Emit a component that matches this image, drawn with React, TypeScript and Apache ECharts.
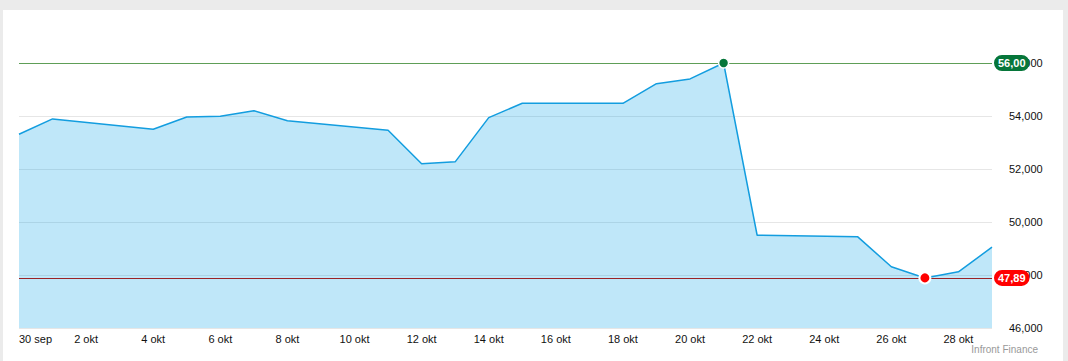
import React, { useEffect, useRef } from "react";
import * as echarts from "echarts";

const dates = [
  "2021-09-30", "2021-10-01", "2021-10-04", "2021-10-05", "2021-10-06", "2021-10-07", "2021-10-08",
  "2021-10-11", "2021-10-12", "2021-10-13", "2021-10-14", "2021-10-15",
  "2021-10-18", "2021-10-19", "2021-10-20", "2021-10-21", "2021-10-22",
  "2021-10-25", "2021-10-26", "2021-10-27", "2021-10-28", "2021-10-29",
];
const prices = [
  53310, 53890, 53500, 53960, 53990, 54200, 53820,
  53460, 52200, 52270, 53940, 54480,
  54480, 55220, 55400, 56000, 49500,
  49440, 48310, 47890, 48120, 49050,
];
const xTickLabels = [
  "30 sep", "2 okt", "4 okt", "6 okt", "8 okt", "10 okt", "12 okt", "14 okt",
  "16 okt", "18 okt", "20 okt", "22 okt", "24 okt", "26 okt", "28 okt",
];
const startDate = "2021-09-30";
const endDate = "2021-10-29";
const maxLabel = "56,00";
const minLabel = "47,89";
const sourceText = "Infront Finance";

const dayIndex = (d: string) => {
  const [y, m, dd] = d.split("-").map(Number);
  const [y0, m0, d0] = startDate.split("-").map(Number);
  return Math.round((Date.UTC(y, m - 1, dd) - Date.UTC(y0, m0 - 1, d0)) / 86400000);
};

const fmtThousands = (v: number) => {
  const s = String(Math.round(v));
  return s.replace(/\B(?=(\d{3})+(?!\d))/g, ",");
};

export default function App() {
  const ref = useRef<HTMLDivElement>(null);

  useEffect(() => {
    if (!ref.current) return;
    const chart = echarts.init(ref.current, undefined, { renderer: "svg" });
    const font = "Arial, 'Liberation Sans', sans-serif";
    const seriesData = dates.map((d, i) => [dayIndex(d), prices[i]]);
    chart.setOption({
      animation: false,
      textStyle: { fontFamily: font },
      grid: { left: 19, right: 76, top: 10, bottom: 33, containLabel: false },
      xAxis: {
        type: "value",
        min: 0,
        max: dayIndex(endDate),
        interval: 2,
        axisLine: { show: false },
        axisTick: { show: false },
        splitLine: { show: false },
        axisLabel: {
          color: "#111",
          fontSize: 11,
          fontFamily: font,
          margin: 5,
          alignMinLabel: "left",
          showMaxLabel: false,
          formatter: (v: number) => (v % 2 === 0 ? xTickLabels[v / 2] ?? "" : ""),
        },
      },
      yAxis: {
        type: "value",
        position: "right",
        min: 46000,
        max: 58000,
        interval: 2000,
        axisLine: { show: false },
        axisTick: { show: false },
        splitLine: { show: true, showMaxLine: false, lineStyle: { color: "#e6e6e6", width: 1 } },
        axisLabel: {
          color: "#111",
          fontSize: 11,
          fontFamily: font,
          margin: 17,
          showMaxLabel: false,
          formatter: (v: number) => fmtThousands(v),
        },
      },
      series: [
        {
          type: "line",
          data: seriesData,
          showSymbol: false,
          symbol: "none",
          lineStyle: { color: "#139ddf", width: 1.5 },
          areaStyle: { color: "rgba(0,160,230,0.25)", opacity: 1, origin: "start" },
          z: 2,
          markLine: {
            silent: true,
            symbol: "none",
            data: [
              {
                type: "max",
                lineStyle: { color: "#5e9e57", width: 1, type: "solid" },
                label: {
                  show: true,
                  position: "end",
                  distance: 2,
                  formatter: maxLabel,
                  color: "#fff",
                  fontWeight: "bold",
                  fontSize: 11,
                  fontFamily: font,
                  backgroundColor: "#06763a",
                  borderRadius: 8,
                  padding: [3, 4, 2, 4],
                },
              },
              {
                type: "min",
                lineStyle: { color: "#9b2226", width: 1, type: "solid" },
                label: {
                  show: true,
                  position: "end",
                  distance: 2,
                  formatter: minLabel,
                  color: "#fff",
                  fontWeight: "bold",
                  fontSize: 11,
                  fontFamily: font,
                  backgroundColor: "#ff0000",
                  borderRadius: 8,
                  padding: [3, 4, 2, 4],
                },
              },
            ],
          },
          markPoint: {
            silent: true,
            symbol: "circle",
            label: { show: false },
            data: [
              {
                type: "max",
                symbolSize: 10,
                itemStyle: { color: "#06763a", borderColor: "#fff", borderWidth: 1.5 },
              },
              {
                type: "min",
                symbolSize: 11,
                itemStyle: { color: "#ff0000", borderColor: "#fff", borderWidth: 2 },
              },
            ],
          },
        },
      ],
      graphic: [
        {
          type: "text",
          right: 30,
          top: 344,
          style: { text: sourceText, fill: "#999", fontSize: 10, fontFamily: font },
        },
      ],
    });
    return () => chart.dispose();
  }, []);

  return (
    <div
      style={{
        position: "fixed",
        left: 0,
        top: 0,
        width: 1068,
        height: 361,
        background: "#ebebeb",
        overflow: "hidden",
      }}
    >
      <div
        style={{
          position: "absolute",
          left: 3,
          top: 10,
          width: 1060,
          height: 351,
          background: "#fff",
        }}
      />
      <div ref={ref} style={{ position: "absolute", left: 0, top: 0, width: 1068, height: 361 }} />
    </div>
  );
}
